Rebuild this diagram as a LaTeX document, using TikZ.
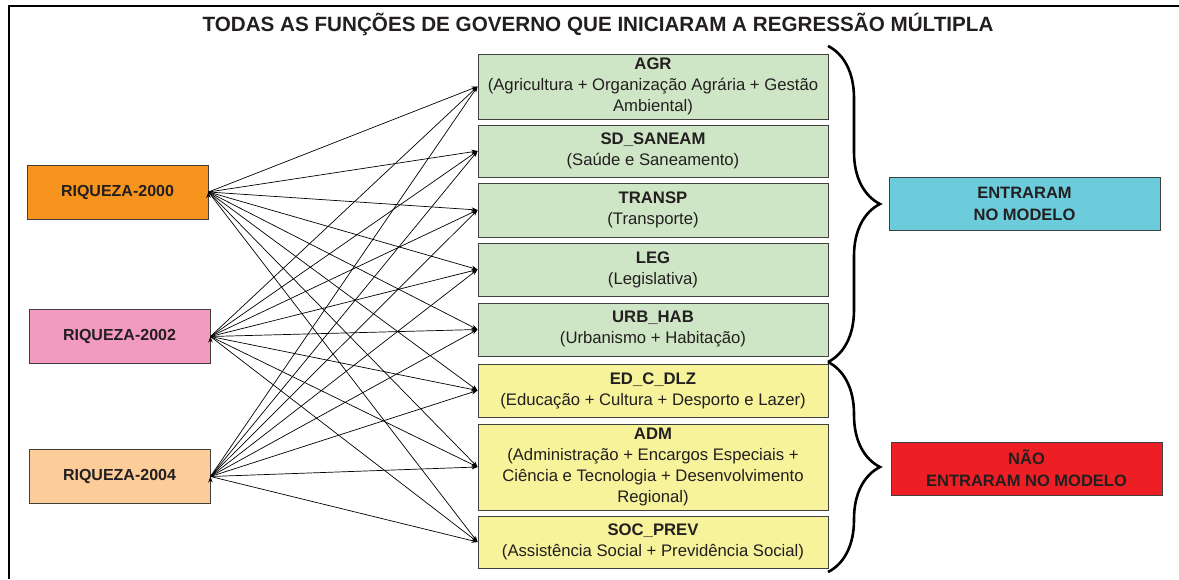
\documentclass[tikz,border=0pt]{standalone}
\usepackage{fontspec}
\setmainfont{Liberation Sans}
\usetikzlibrary{arrows.meta}
\usetikzlibrary{decorations.pathreplacing}

\definecolor{riqA}{RGB}{247,148,30}
\definecolor{riqB}{RGB}{243,154,193}
\definecolor{riqC}{RGB}{252,205,153}
\definecolor{verde}{RGB}{207,230,198}
\definecolor{amarelo}{RGB}{247,243,155}
\definecolor{ciano}{RGB}{108,204,220}
\definecolor{vermelho}{RGB}{237,31,36}
\definecolor{texto}{RGB}{35,31,32}

\tikzset{
  box/.style={draw=black!75, line width=0.9pt, align=center, text=texto, inner sep=0pt,
    font=\fontsize{16.7}{21}\selectfont},
  riqbox/.style={box, minimum width=181pt, minimum height=54pt, font=\fontsize{16}{21}\selectfont\bfseries},
  funcbox/.style={box, minimum width=350pt},
  resbox/.style={box, minimum width=271pt, minimum height=53pt, font=\fontsize{16.5}{22}\selectfont\bfseries},
  conn/.style={-{Stealth[length=6pt,width=4.5pt]}, line width=0.7pt},
  chave/.style={decorate, decoration={brace, amplitude=52pt}, line width=2.6pt},
}

\begin{document}
\begin{tikzpicture}[x=1pt, y=-1pt]
  \useasboundingbox (0,0) rectangle (1179,579);
  \draw[line width=2.8pt] (9,579) -- (9,6) -- (1179,6);
  \node[text=texto, font=\fontsize{20.65}{24}\selectfont\bfseries] (titulo) at (598,24)
    {TODAS AS FUNÇÕES DE GOVERNO QUE INICIARAM A REGRESSÃO MÚLTIPLA};

  % variaveis de riqueza
  \node[riqbox, fill=riqA] (r2000) at (117.5,192) {RIQUEZA-2000};
  \node[riqbox, fill=riqB] (r2002) at (119.5,336.5) {RIQUEZA-2002};
  \node[riqbox, fill=riqC] (r2004) at (119.5,476.5) {RIQUEZA-2004};

  % funcoes de governo
  \node[funcbox, fill=verde, minimum height=65pt] (agr) at (653,86.5)
    {\textbf{AGR}\\(Agricultura + Organização Agrária + Gestão\\Ambiental)};
  \node[funcbox, fill=verde, minimum height=52pt] (sd) at (653,151)
    {\textbf{SD\_SANEAM}\\(Saúde e Saneamento)};
  \node[funcbox, fill=verde, minimum height=54pt] (transp) at (653,210)
    {\textbf{TRANSP}\\(Transporte)};
  \node[funcbox, fill=verde, minimum height=53pt] (leg) at (653,269.5)
    {\textbf{LEG}\\(Legislativa)};
  \node[funcbox, fill=verde, minimum height=53pt] (urb) at (653,329.5)
    {\textbf{URB\_HAB}\\(Urbanismo + Habitação)};
  \node[funcbox, fill=amarelo, minimum height=53pt] (edc) at (653,390.5)
    {\textbf{ED\_C\_DLZ}\\(Educação + Cultura + Desporto e Lazer)};
  \node[funcbox, fill=amarelo, minimum height=86pt] (adm) at (653,467)
    {\textbf{ADM}\\(Administração + Encargos Especiais +\\Ciência e Tecnologia + Desenvolvimento\\Regional)};
  \node[funcbox, fill=amarelo, minimum height=52pt] (soc) at (653,542)
    {\textbf{SOC\_PREV}\\(Assistência Social + Previdência Social)};

  % resultado
  \node[resbox, fill=ciano] (entr) at (1024.5,203.5) {ENTRARAM\\NO MODELO};
  \node[resbox, fill=vermelho] (nentr) at (1026.5,468.5) {NÃO\\ENTRARAM NO MODELO};

  \draw[conn] (r2000.east) edge (agr.west) edge (sd.west) edge (transp.west) edge (leg.west)
    edge (urb.west) edge (edc.west) edge (adm.west) edge (soc.west);
  \draw[conn] (r2002.east) edge (agr.west) edge (sd.west) edge (transp.west) edge (leg.west)
    edge (urb.west) edge (edc.west) edge (adm.west) edge (soc.west);
  \draw[conn] (r2004.east) edge (agr.west) edge (sd.west) edge (transp.west) edge (leg.west)
    edge (urb.west) edge (edc.west) edge (adm.west) edge (soc.west);

  \draw[chave] (828,46) -- (828,362);
  \draw[chave] (828,362) -- (828,572);
\end{tikzpicture}
\end{document}
